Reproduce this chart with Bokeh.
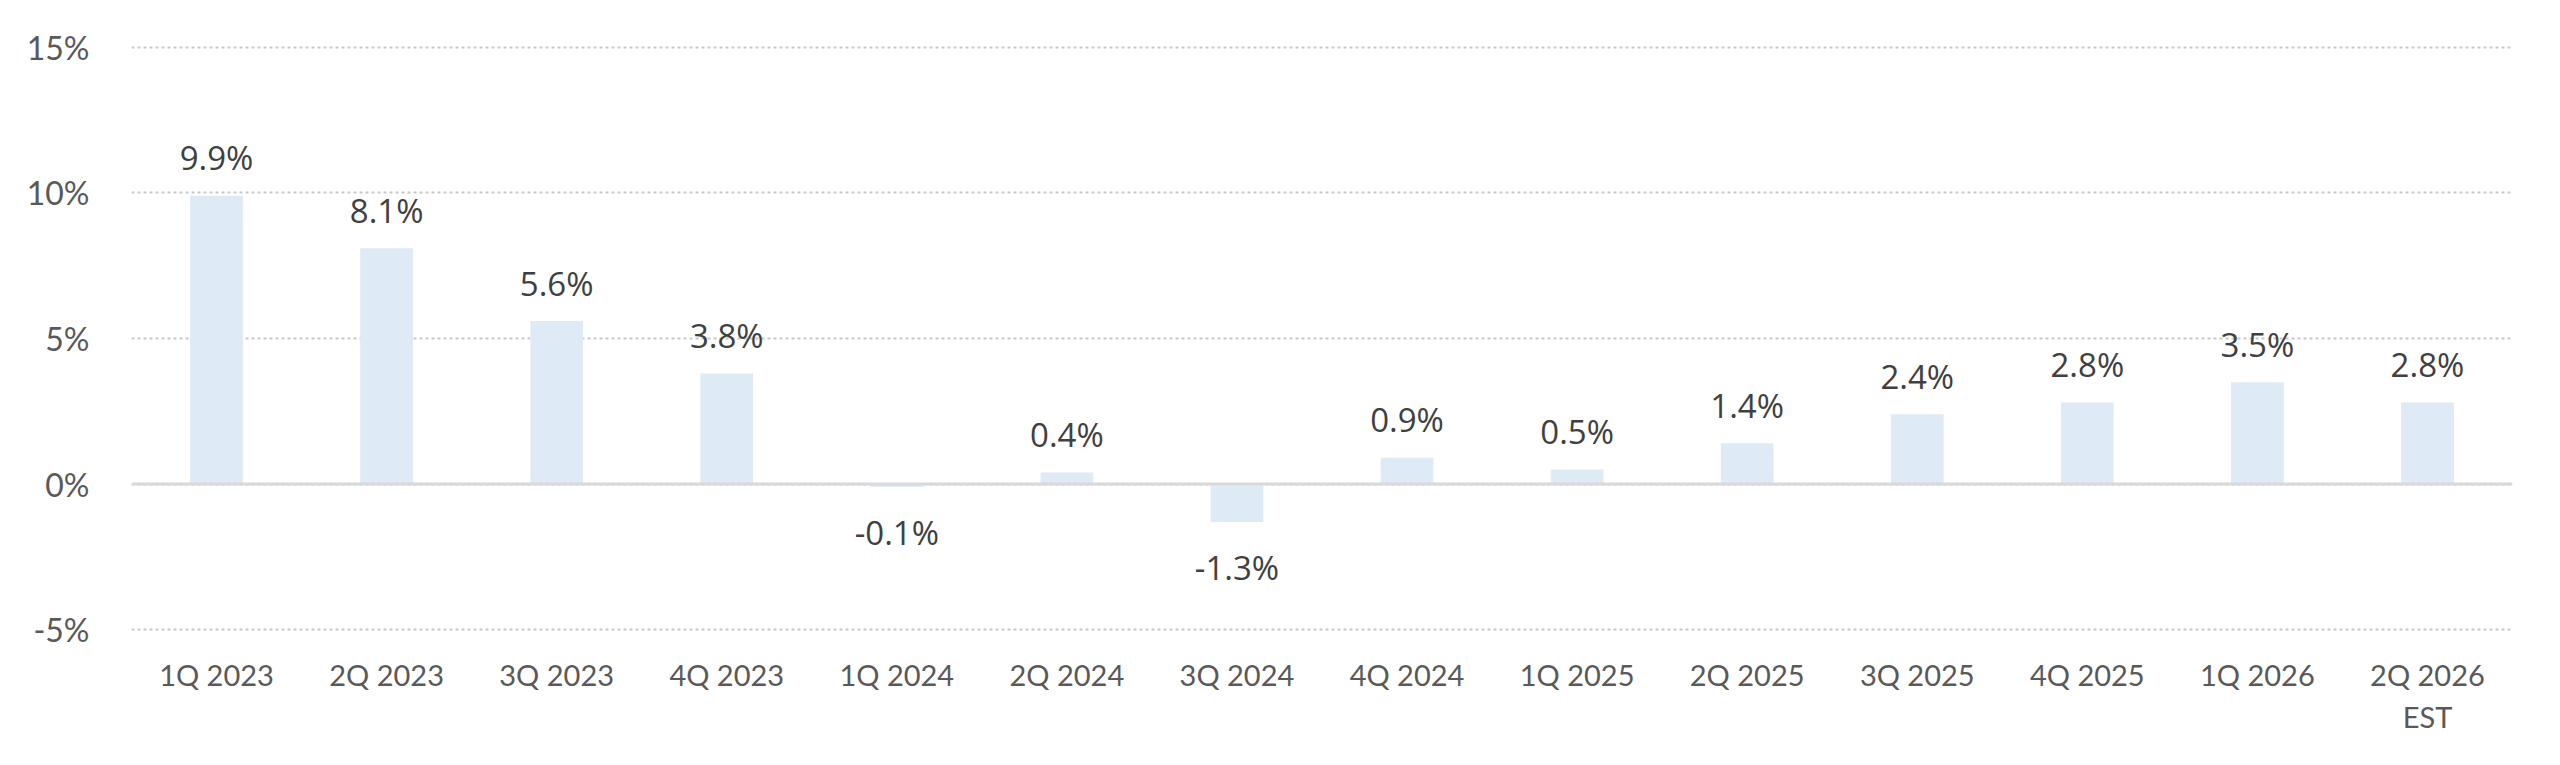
from bokeh.plotting import figure
from bokeh.models import ColumnDataSource, FactorRange, FixedTicker, PrintfTickFormatter, Span
from bokeh.core.properties import value
from bokeh.embed import file_html
from bokeh.resources import INLINE

categories = ["1Q 2023", "2Q 2023", "3Q 2023", "4Q 2023", "1Q 2024", "2Q 2024", "3Q 2024",
              "4Q 2024", "1Q 2025", "2Q 2025", "3Q 2025", "4Q 2025", "1Q 2026", "2Q 2026\nEST"]
growth = [9.9, 8.1, 5.6, 3.8, -0.1, 0.4, -1.3, 0.9, 0.5, 1.4, 2.4, 2.8, 3.5, 2.8]
y_ticks = [-5, 0, 5, 10, 15]

labels = [f"{v:.1f}%" for v in growth]

src = ColumnDataSource(dict(cat=categories, val=growth, lab=labels))
pos = ColumnDataSource(dict(cat=[c for c, v in zip(categories, growth) if v >= 0],
                            val=[v for v in growth if v >= 0],
                            lab=[l for l, v in zip(labels, growth) if v >= 0]))
neg = ColumnDataSource(dict(cat=[c for c, v in zip(categories, growth) if v < 0],
                            val=[v for v in growth if v < 0],
                            lab=[l for l, v in zip(labels, growth) if v < 0]))

# frame: 2381 px wide, 20.2 units * 29.1 px = 588 px tall
p = figure(x_range=FactorRange(*categories, range_padding=0), y_range=(-5.1, 15.1),
           width=2544, height=749, output_backend="svg", toolbar_location=None,
           min_border_left=131, min_border_right=32, min_border_top=44, min_border_bottom=117)
p.outline_line_color = None
p.background_fill_color = "white"
p.border_fill_color = "white"

p.xgrid.grid_line_color = None
p.ygrid.grid_line_color = "#C8C8C8"
p.ygrid.grid_line_width = 2
p.ygrid.grid_line_dash = "3 3"
p.ygrid.ticker = FixedTicker(ticks=y_ticks)

p.vbar(x="cat", top="val", bottom=0, width=0.31, source=src,
       fill_color="#DEEAF6", line_color=None)

p.add_layout(Span(location=0, dimension="width", line_color="#D9D9D9", line_width=3))

p.text(x="cat", y="val", text="lab", source=pos, text_font=value("Open Sans"),
       text_font_size="33px", text_color="#404040", text_align="center",
       text_baseline="alphabetic", y_offset=-38)
p.text(x="cat", y="val", text="lab", source=neg, text_font=value("Open Sans"),
       text_font_size="33px", text_color="#404040", text_align="center",
       text_baseline="alphabetic", y_offset=46)

p.yaxis.ticker = FixedTicker(ticks=y_ticks)
p.yaxis.formatter = PrintfTickFormatter(format="%d%%")
p.yaxis.axis_line_color = None
p.yaxis.major_tick_line_color = None
p.yaxis.minor_tick_line_color = None
p.yaxis.major_label_standoff = 36
p.yaxis.major_label_text_font = "Lato"
p.yaxis.major_label_text_font_size = "32px"
p.yaxis.major_label_text_color = "#595959"

p.xaxis.axis_line_color = None
p.xaxis.major_tick_line_color = None
p.xaxis.minor_tick_line_color = None
p.xaxis.major_label_standoff = 18
p.xaxis.major_label_text_font = "Lato"
p.xaxis.major_label_text_font_size = "29px"
p.xaxis.major_label_text_color = "#595959"

open("out.html", "w").write(file_html(p, INLINE))
